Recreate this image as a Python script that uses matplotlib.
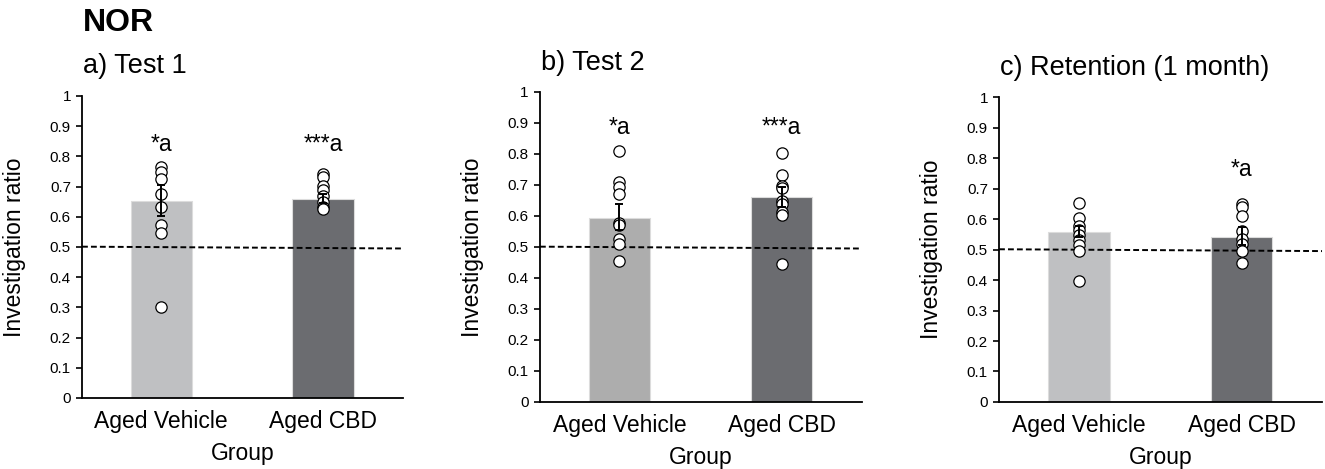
import numpy as np
import matplotlib
matplotlib.use("Agg")
import matplotlib.pyplot as plt

plt.rcParams['font.family'] = ['Liberation Sans', 'DejaVu Sans']

groups = ["Aged Vehicle", "Aged CBD"]
titles = ["a) Test 1", "b) Test 2", "c) Retention (1 month)"]

means = [[0.652, 0.659], [0.595, 0.660], [0.558, 0.542]]
err_hi = [[0.705, 0.674], [0.638, 0.693], [0.578, 0.575]]
err_lo = [[0.604, 0.645], [0.555, 0.630], [0.542, 0.515]]

# individual animals
veh_pts = [
    [0.764, 0.749, 0.724, 0.674, 0.633, 0.573, 0.547, 0.300],
    [0.808, 0.709, 0.693, 0.670, 0.577, 0.571, 0.525, 0.510, 0.455],
    [0.653, 0.602, 0.577, 0.564, 0.548, 0.531, 0.515, 0.495, 0.398],
]
cbd_pts = [
    [0.742, 0.731, 0.703, 0.689, 0.669, 0.650, 0.633, 0.625],
    [0.803, 0.731, 0.697, 0.689, 0.648, 0.639, 0.612, 0.602, 0.444],
    [0.649, 0.638, 0.610, 0.562, 0.533, 0.517, 0.496, 0.455],
]

# significance labels
sig = [["*a", "***a"], ["*a", "***a"], ["", "*a"]]
sig_y = [0.84, 0.887, 0.764]

veh_colors = ['#bfc0c2', '#adadad', '#bfc0c2']
cbd_color = '#6b6c70'

fig = plt.figure(figsize=(13.25, 4.69), dpi=100)

boxes = [
    [0.0619, 0.1514, 0.2423, 0.644],
    [0.4075, 0.1429, 0.2430, 0.661],
    [0.7540, 0.1429, 0.2438, 0.650],
]
title_y = [1 - 73/469, 1 - 70/469, 1 - 75/469]

x = np.arange(len(groups))

for i in range(3):
    ax = fig.add_axes(boxes[i])
    cols = [veh_colors[i], cbd_color]
    ax.bar(x, means[i], width=0.38, color=cols, edgecolor='#dcdcdc',
           linewidth=0.8, zorder=1)

    m = np.array(means[i])
    yerr = [m - np.array(err_lo[i]), np.array(err_hi[i]) - m]
    ax.errorbar(x, m, yerr=yerr, fmt='none', ecolor='black',
                elinewidth=1.4, capsize=3.2, capthick=1.4, zorder=5)

    for j, pts in enumerate([veh_pts[i], cbd_pts[i]]):
        ax.scatter(np.full(len(pts), x[j]), pts, s=66, facecolor='white',
                   edgecolor='black', linewidth=0.9, zorder=4)

    ax.plot([-0.49, 1.495], [0.501, 0.495], color='black', lw=1.4,
            ls=(0, (3, 1.6)), zorder=2)

    for j in range(2):
        if sig[i][j]:
            ax.text(x[j], sig_y[i], sig[i][j], ha='center', va='center',
                    fontsize=16.5)

    ax.set_xlim(-0.49, 1.495)
    ax.set_ylim(0, 1)
    ax.set_yticks(np.arange(0, 1.01, 0.1))
    ax.set_yticklabels(['0', '0.1', '0.2', '0.3', '0.4', '0.5', '0.6',
                        '0.7', '0.8', '0.9', '1'])
    ax.set_xticks(x)
    ax.set_xticklabels(groups, fontsize=16.5)
    ax.tick_params(axis='x', length=0, pad=9)
    ax.tick_params(axis='y', labelsize=11, length=4, width=1.2, pad=4)
    for s in ['top', 'right']:
        ax.spines[s].set_visible(False)
    for s in ['left', 'bottom']:
        ax.spines[s].set_linewidth(1.3)
    ax.set_xlabel("Group", fontsize=16.5, labelpad=6)
    ax.set_ylabel("Investigation ratio", fontsize=16.5)
    ax.yaxis.set_label_coords(-0.175, 0.5)

    fig.text(boxes[i][0] + 0.0005, title_y[i], titles[i], fontsize=19.5,
             ha='left', va='baseline')

fig.text(0.0625, 1 - 31/469, "NOR", fontsize=23, fontweight='bold',
         ha='left', va='baseline')

fig.savefig("out.png", dpi=100)
